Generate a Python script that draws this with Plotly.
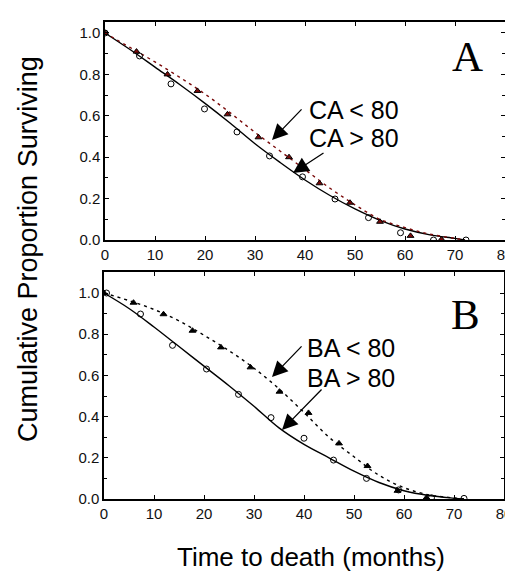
import plotly.graph_objects as go

# ---------------- data ----------------
# Panel A observed points
a_circ_x = [0, 6.9, 13.2, 19.9, 26.4, 32.9, 39.5, 46.0, 52.7, 59.1, 65.7, 72.2]
a_circ_y = [1.0, 0.889, 0.754, 0.633, 0.522, 0.406, 0.305, 0.198, 0.108, 0.035, 0.0, 0.0]
a_tri_x = [0, 6.3, 12.5, 18.5, 24.5, 30.7, 36.8, 42.9, 49.0, 55.0, 61.1, 67.3]
a_tri_y = [1.0, 0.91, 0.80, 0.72, 0.607, 0.496, 0.40, 0.274, 0.18, 0.088, 0.02, 0.003]
# Panel A fitted curves
a_fit_x = [0, 5, 10, 15, 20, 25, 30, 35, 40, 45, 50, 55, 60, 65, 70, 72]
a_solid_y = [1.0, 0.92, 0.835, 0.75, 0.66, 0.565, 0.465, 0.375, 0.29, 0.215, 0.15, 0.095, 0.053, 0.025, 0.008, 0.0]
a_dash_y = [1.0, 0.93, 0.86, 0.785, 0.705, 0.615, 0.52, 0.43, 0.34, 0.25, 0.17, 0.10, 0.06, 0.028, 0.008, 0.0]

# Panel B observed points
b_circ_x = [0.5, 7.3, 13.7, 20.5, 26.9, 33.4, 40.0, 45.9, 52.5, 58.9, 65.5, 72.0]
b_circ_y = [1.0, 0.898, 0.746, 0.631, 0.508, 0.395, 0.295, 0.189, 0.10, 0.044, 0.006, 0.003]
b_tri_x = [0, 5.9, 11.9, 17.7, 23.4, 29.3, 35.1, 40.9, 47.0, 52.7, 58.7, 64.5]
b_tri_y = [1.0, 0.953, 0.897, 0.817, 0.736, 0.639, 0.521, 0.418, 0.27, 0.16, 0.04, 0.006]
# Panel B fitted curves
b_fit_x = [0, 5, 10, 15, 20, 25, 30, 35, 40, 45, 50, 55, 60, 65, 70, 72]
b_solid_y = [1.0, 0.925, 0.835, 0.74, 0.645, 0.55, 0.45, 0.345, 0.265, 0.20, 0.135, 0.08, 0.04, 0.017, 0.004, 0.0]
b_dash_y = [1.0, 0.963, 0.92, 0.865, 0.795, 0.72, 0.635, 0.535, 0.42, 0.30, 0.205, 0.115, 0.055, 0.02, 0.005, 0.0]

x_ticks = [0, 10, 20, 30, 40, 50, 60, 70, 80]
y_ticks = [0.0, 0.2, 0.4, 0.6, 0.8, 1.0]
y_tick_text = ["0.0", "0.2", "0.4", "0.6", "0.8", "1.0"]

# ---------------- figure ----------------
OFF = 8                      # page body margin of the viewer
W, H = 513, 573
FONT = "Liberation Sans, Arial, sans-serif"
SERIF = "Liberation Serif, Times New Roman, serif"
fig = go.Figure()

def px_x(p):
    return (p - OFF) / W

def px_y(p):
    return 1 - (p - OFF) / H

def add_panel(xa, ya, fx, sy, dy, dash_color, cx, cy, tx, ty):
    fig.add_trace(go.Scatter(x=fx, y=sy, mode="lines", xaxis=xa, yaxis=ya,
                             line=dict(color="black", width=1.4, shape="spline", smoothing=1),
                             hoverinfo="skip"))
    fig.add_trace(go.Scatter(x=fx, y=dy, mode="lines", xaxis=xa, yaxis=ya,
                             line=dict(color=dash_color, width=1.4, dash="3px,4px",
                                       shape="spline", smoothing=1),
                             hoverinfo="skip"))
    fig.add_trace(go.Scatter(x=cx, y=cy, mode="markers", xaxis=xa, yaxis=ya,
                             marker=dict(symbol="circle-open", size=6,
                                         color="black", line=dict(width=1))))
    fig.add_trace(go.Scatter(x=tx, y=ty, mode="markers", xaxis=xa, yaxis=ya,
                             marker=dict(symbol="triangle-up", size=6, color=dash_color,
                                         line=dict(color="black", width=1))))

add_panel("x", "y", a_fit_x, a_solid_y, a_dash_y, "#7a0a0a",
          a_circ_x, a_circ_y, a_tri_x, a_tri_y)
add_panel("x2", "y2", b_fit_x, b_solid_y, b_dash_y, "black",
          b_circ_x, b_circ_y, b_tri_x, b_tri_y)

def xaxis(domain, anchor):
    return dict(domain=domain, anchor=anchor, range=[0, 80], tickvals=x_ticks,
                ticks="inside", ticklen=4, tickwidth=1, tickcolor="black",
                showline=True, linecolor="black", linewidth=1.5, mirror="ticks",
                showgrid=False, zeroline=False, automargin=False,
                ticklabeloverflow="allow",
                tickfont=dict(family=FONT, size=15, color="#111"))

def yaxis(domain, anchor, top):
    return dict(domain=domain, anchor=anchor, range=[0, top], tickvals=y_ticks,
                ticktext=y_tick_text,
                ticks="inside", ticklen=4, tickwidth=1, tickcolor="black",
                minor=dict(dtick=0.1, tick0=0, ticks="inside", ticklen=3, tickcolor="black"),
                showline=True, linecolor="black", linewidth=1.5, mirror="ticks",
                showgrid=False, zeroline=False, automargin=False,
                ticklabeloverflow="allow",
                tickfont=dict(family=FONT, size=15, color="#111"))

fig.update_layout(
    template="none",
    width=W, height=H, margin=dict(l=0, r=0, t=0, b=0, pad=0),
    paper_bgcolor="white", plot_bgcolor="white", showlegend=False,
    xaxis=xaxis([px_x(105), px_x(505)], "y"),
    yaxis=yaxis([px_y(240), px_y(22)], "x", 1.053),
    xaxis2=xaxis([px_x(104), px_x(504)], "y2"),
    yaxis2=yaxis([px_y(499), px_y(272)], "x2", 1.102),
)

anns = []
# panel letters
anns.append(dict(x=72.4, y=0.884, xref="x", yref="y", text="A", showarrow=False,
                 xanchor="center", yanchor="middle",
                 font=dict(family=SERIF, size=43, color="black")))
anns.append(dict(x=72.2, y=0.896, xref="x2", yref="y2", text="B", showarrow=False,
                 xanchor="center", yanchor="middle",
                 font=dict(family=SERIF, size=43, color="black")))
# labels
for txt, x, y, xr, yr in [("CA &lt; 80", 40.4, 0.628, "x", "y"),
                          ("CA &gt; 80", 40.4, 0.493, "x", "y"),
                          ("BA &lt; 80", 40.2, 0.733, "x2", "y2"),
                          ("BA &gt; 80", 40.2, 0.587, "x2", "y2")]:
    anns.append(dict(x=x, y=y, xref=xr, yref=yr, text=txt, showarrow=False,
                     xanchor="left", yanchor="middle",
                     font=dict(family=FONT, size=25, color="black")))
# arrows
for x, y, ax, ay, xr, yr in [(33.4, 0.483, 39.6, 0.638, "x", "y"),
                             (37.6, 0.324, 44.0, 0.425, "x", "y"),
                             (33.6, 0.592, 39.8, 0.748, "x2", "y2"),
                             (35.6, 0.335, 43.8, 0.539, "x2", "y2")]:
    anns.append(dict(x=x, y=y, ax=ax, ay=ay, xref=xr, yref=yr, axref=xr, ayref=yr,
                     text="", showarrow=True, arrowhead=2, arrowsize=2.4,
                     arrowwidth=1.3, arrowcolor="black"))
# axis titles
anns.append(dict(x=px_x(28), y=px_y(249), xref="paper", yref="paper",
                 xanchor="center", yanchor="middle",
                 text="Cumulative Proportion Surviving", textangle=-90, showarrow=False,
                 font=dict(family=FONT, size=27, color="black")))
anns.append(dict(x=px_x(311), y=px_y(557), xref="paper", yref="paper",
                 xanchor="center", yanchor="middle",
                 text="Time to death (months)", showarrow=False,
                 font=dict(family=FONT, size=26, color="black")))
fig.update_layout(annotations=anns)

fig.write_html("out.html")
